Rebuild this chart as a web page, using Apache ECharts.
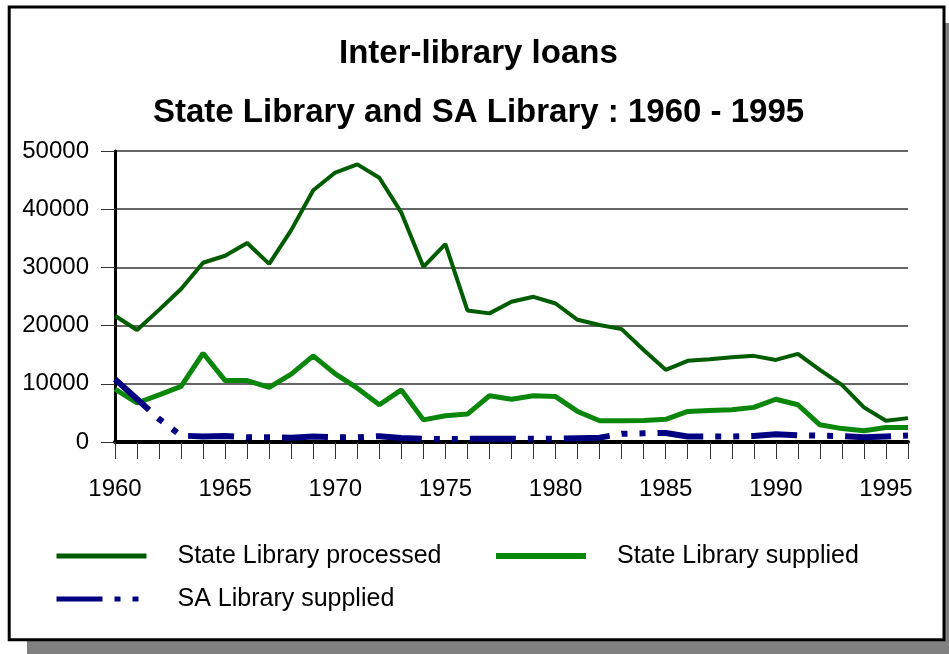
<!DOCTYPE html>
<html>
<head>
<meta charset="utf-8">
<title>Inter-library loans</title>
<script src="https://cdn.jsdelivr.net/npm/echarts@6/dist/echarts.min.js"></script>
<style>
  html, body { margin: 0; padding: 0; background: #fff; }
  #chart { width: 949px; height: 654px; }
</style>
</head>
<body>
<div id="chart"></div>
<script>
// years 1960 - 1996, one point per year
const years = [];
for (let y = 1960; y <= 1996; y++) years.push(String(y));

const processed = [21700, 19250, 22700, 26300, 30800, 32000, 34200, 30600, 36400, 43250, 46300, 47700,
  45400, 39400, 30100, 34000, 22600, 22100, 24100, 24950, 23800, 21000, 20100, 19400,
  15800, 12400, 13950, 14200, 14550, 14800, 14100, 15150, 12400, 9800, 5950, 3650, 4100];

const supplied = [9100, 6700, 8100, 9550, 15250, 10550, 10550, 9400, 11650, 14800, 11700, 9250,
  6400, 8950, 3800, 4500, 4800, 7950, 7350, 7950, 7800, 5250, 3650, 3650,
  3700, 3900, 5250, 5400, 5550, 5950, 7350, 6400, 2950, 2300, 1950, 2500, 2500];

const saSupplied = [10800, 7400, 3950, 1100, 950, 1050, 800, 800, 750, 950, 800, 800,
  1000, 700, 550, 500, 550, 550, 550, 550, 550, 650, 750, 1400,
  1500, 1550, 950, 950, 950, 1050, 1350, 1150, 1100, 1000, 800, 950, 1100];

const seriesNames = ['State Library processed', 'State Library supplied', 'SA Library supplied'];

const font = "'Liberation Sans', Arial, sans-serif";

const chart = echarts.init(document.getElementById('chart'));

const legendText = { fontFamily: font, fontSize: 25, color: '#000', lineHeight: 28, padding: [0, 0, 0, 26] };
const titleText = { fontFamily: font, fontWeight: 'bold', fontSize: 33, color: '#000' };

chart.setOption({
  animation: false,
  backgroundColor: '#fff',
  graphic: [
    { type: 'rect', z: -2, shape: { x: 27, y: 23, width: 940, height: 640 }, style: { fill: '#808080' } },
    { type: 'rect', z: -1, shape: { x: 9.2, y: 7, width: 934.8, height: 632.7 }, style: { fill: '#fff', stroke: '#000', lineWidth: 3 } }
  ],
  title: [
    { text: 'Inter-library loans', left: 334, top: 32, textStyle: titleText },
    { text: 'State Library and SA Library : 1960 - 1995', left: 148, top: 91, textStyle: titleText }
  ],
  legend: [
    { data: [seriesNames[0], seriesNames[2]], orient: 'vertical', left: 54, top: 542, padding: 0,
      itemWidth: 90, itemHeight: 6, itemGap: 15, lineStyle: { width: 5 }, itemStyle: { opacity: 0 },
      textStyle: legendText },
    { data: [seriesNames[1]], orient: 'vertical', left: 493, top: 542, padding: 0,
      itemWidth: 90, itemHeight: 6, itemGap: 15, lineStyle: { width: 6 }, itemStyle: { opacity: 0 },
      textStyle: legendText }
  ],
  grid: { left: 115, right: 41, top: 151, bottom: 212 },
  xAxis: {
    type: 'category',
    data: years,
    boundaryGap: false,
    axisLine: { lineStyle: { color: '#000', width: 4 } },
    axisTick: { interval: 0, length: 17, lineStyle: { color: '#333', width: 1 } },
    axisLabel: {
      interval: (i) => i % 5 === 0,
      margin: 35, fontFamily: font, fontSize: 24, color: '#000'
    },
    splitLine: { show: false }
  },
  yAxis: {
    type: 'value',
    min: 0, max: 50000, interval: 10000,
    axisLine: { show: true, lineStyle: { color: '#000', width: 3 } },
    axisTick: { show: true, length: 14, lineStyle: { color: '#333', width: 1 } },
    axisLabel: { margin: 26, fontFamily: font, fontSize: 24, color: '#000', formatter: (v) => String(v) },
    splitLine: { lineStyle: { color: '#333', width: 1.5 } }
  },
  series: [
    { name: seriesNames[0], type: 'line', data: processed, symbol: 'none',
      color: '#005c00', lineStyle: { color: '#005c00', width: 4 } },
    { name: seriesNames[1], type: 'line', data: supplied, symbol: 'none',
      color: '#0a870a', lineStyle: { color: '#0a870a', width: 5 } },
    { name: seriesNames[2], type: 'line', data: saSupplied, symbol: 'none',
      color: '#000080', lineStyle: { color: '#000080', width: 6, type: [46, 12, 6, 12, 6, 12] } }
  ]
});
</script>
</body>
</html>
